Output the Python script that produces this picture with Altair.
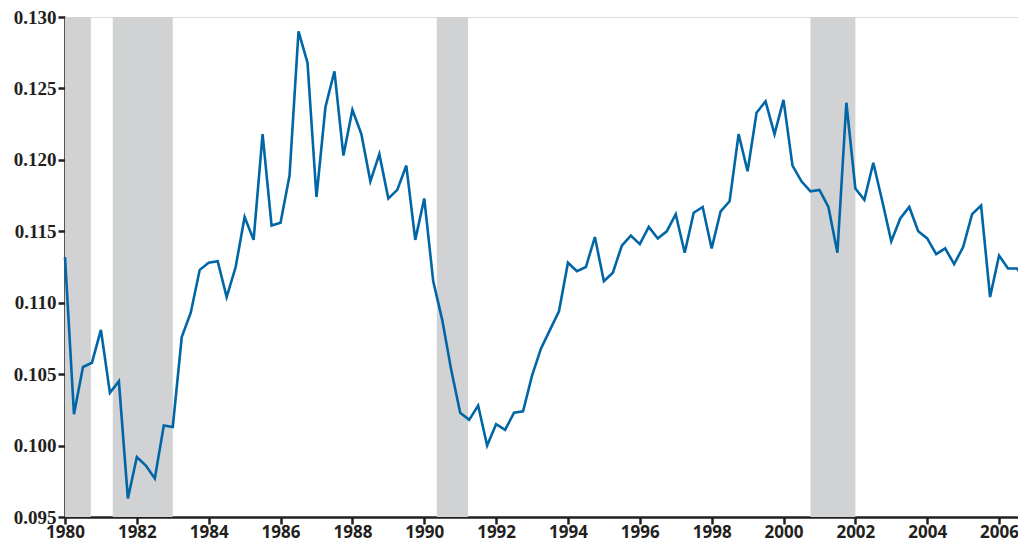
import altair as alt
import pandas as pd

years = list(range(1980, 2007))
values = [
    0.1132, 0.1022, 0.1055, 0.1058,
    0.1081, 0.1037, 0.1045, 0.0963,
    0.0992, 0.0986, 0.0977, 0.1014,
    0.1013, 0.1076, 0.1093, 0.1123,
    0.1128, 0.1129, 0.1104, 0.1125,
    0.1160, 0.1144, 0.1218, 0.1154,
    0.1156, 0.1189, 0.1290, 0.1268,
    0.1174, 0.1237, 0.1262, 0.1203,
    0.1235, 0.1218, 0.1185, 0.1204,
    0.1173, 0.1179, 0.1196, 0.1144,
    0.1173, 0.1115, 0.1088, 0.1053,
    0.1023, 0.1018, 0.1028, 0.1000,
    0.1015, 0.1011, 0.1023, 0.1024,
    0.1049, 0.1068, 0.1081, 0.1094,
    0.1128, 0.1122, 0.1125, 0.1146,
    0.1115, 0.1121, 0.1140, 0.1147,
    0.1141, 0.1153, 0.1145, 0.1150,
    0.1162, 0.1135, 0.1163, 0.1167,
    0.1138, 0.1164, 0.1171, 0.1218,
    0.1192, 0.1233, 0.1241, 0.1218,
    0.1242, 0.1196, 0.1185, 0.1178,
    0.1179, 0.1167, 0.1135, 0.1240,
    0.1180, 0.1172, 0.1198, 0.1171,
    0.1143, 0.1159, 0.1167, 0.1150,
    0.1145, 0.1134, 0.1138, 0.1127,
    0.1139, 0.1162, 0.1168, 0.1104,
    0.1133, 0.1124, 0.1124, 0.1115,
]
quarters = [y + q * 0.25 for y in years for q in range(4)]

rec_start = [1980.0, 1981.33, 1990.35, 2000.75]
rec_end = [1980.72, 1983.0, 1991.22, 2002.0]

x_ticks = list(range(1980, 2007, 2))
y_ticks = [0.095, 0.100, 0.105, 0.110, 0.115, 0.120, 0.125, 0.130]

df = pd.DataFrame({"t": quarters, "v": values})
rec = pd.DataFrame({"s": rec_start, "e": rec_end})

xscale = alt.Scale(domain=[1980, 2006.75], nice=False, zero=False, range=[0, 961])
yscale = alt.Scale(domain=[0.095, 0.130], nice=False, zero=False)

bars = alt.Chart(rec).mark_rect(color="#d1d2d4").encode(
    x=alt.X("s:Q", scale=xscale),
    x2="e:Q",
    y=alt.value(0),
    y2=alt.value(500),
)

line = alt.Chart(df).mark_line(color="#0066a6", strokeWidth=2.6).encode(
    x=alt.X(
        "t:Q",
        scale=xscale,
        axis=alt.Axis(
            values=x_ticks,
            format="d",
            title=None,
            grid=False,
            domainColor="#231f20",
            domainWidth=2.5,
            tickColor="#231f20",
            tickWidth=2.5,
            tickSize=7,
            labelFont="Open Sans",
            labelFontWeight="bold",
            labelFontSize=17,
            labelColor="#231f20",
            labelPadding=0,
            labelFlush=False,
        ),
    ),
    y=alt.Y(
        "v:Q",
        scale=yscale,
        axis=alt.Axis(
            values=y_ticks,
            format=".3f",
            title=None,
            grid=False,
            domainColor="#231f20",
            domainWidth=2.5,
            tickColor="#231f20",
            tickWidth=2.5,
            tickSize=7,
            labelFont="Liberation Serif",
            labelFontWeight="bold",
            labelFontSize=19,
            labelColor="#231f20",
            labelPadding=2,
        ),
    ),
)

chart = (
    alt.layer(bars, line)
    .properties(
        width=953,
        height=500,
        autosize=alt.AutoSizeParams(type="none"),
        padding={"left": 57, "top": 9, "right": 0, "bottom": 27},
    )
    .configure_view(stroke=None)
    .configure(background="white")
)

chart.save("out.html", embed_options={"renderer": "svg", "actions": False})
